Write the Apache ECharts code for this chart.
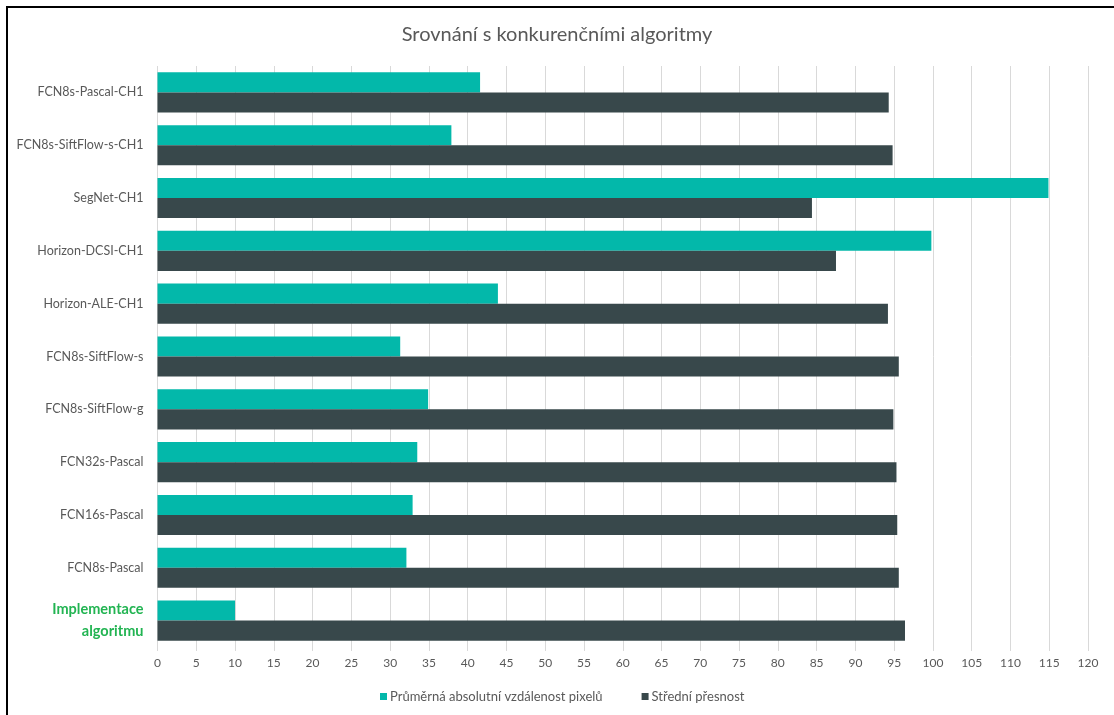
<!DOCTYPE html>
<html>
<head>
<meta charset="utf-8">
<title>Srovnání s konkurenčními algoritmy</title>
<script src="https://cdn.jsdelivr.net/npm/echarts@6/dist/echarts.min.js"></script>
<style>
  html, body { margin: 0; padding: 0; background: #ffffff; }
  #chart { width: 1114px; height: 715px; }
</style>
</head>
<body>
<div id="chart"></div>
<script>
// Algorithms, listed top to bottom
const categories = [
  'FCN8s-Pascal-CH1',
  'FCN8s-SiftFlow-s-CH1',
  'SegNet-CH1',
  'Horizon-DCSI-CH1',
  'Horizon-ALE-CH1',
  'FCN8s-SiftFlow-s',
  'FCN8s-SiftFlow-g',
  'FCN32s-Pascal',
  'FCN16s-Pascal',
  'FCN8s-Pascal',
  'Implementace algoritmu'
];

// Mean absolute pixel distance
const meanPixelDistance = [41.6, 37.9, 114.9, 99.8, 43.9, 31.3, 34.9, 33.5, 32.9, 32.1, 10.0];

// Mean accuracy
const meanAccuracy = [94.3, 94.8, 84.4, 87.5, 94.2, 95.6, 94.9, 95.3, 95.4, 95.6, 96.4];

const seriesNames = ['Průměrná absolutní vzdálenost pixelů', 'Střední přesnost'];
const highlighted = 'Implementace algoritmu';

const FONT = 'Lato, "Noto Sans", sans-serif';
const TEXT = '#595959';

const chart = echarts.init(document.getElementById('chart'), null, { renderer: 'canvas' });

chart.setOption({
  backgroundColor: '#ffffff',
  animation: false,
  textStyle: { fontFamily: FONT },
  graphic: [{
    type: 'rect',
    shape: { x: 7, y: 7, width: 1120, height: 720 },
    style: { fill: 'none', stroke: '#000000', lineWidth: 2 },
    silent: true,
    z: 100
  }],
  title: {
    text: 'Srovnání s konkurenčními algoritmy',
    left: 'center',
    top: 20,
    textStyle: { fontFamily: FONT, fontSize: 20, fontWeight: 'normal', color: TEXT }
  },
  legend: {
    bottom: 7,
    left: 375,
    itemWidth: 7,
    itemHeight: 7,
    itemGap: 39,
    icon: 'rect',
    textStyle: { fontFamily: FONT, fontSize: 13, color: TEXT, padding: [0, 0, 0, -2] },
    data: seriesNames
  },
  grid: { left: 157.5, right: 26, top: 66, bottom: 68, containLabel: false },
  xAxis: {
    type: 'value',
    min: 0,
    max: 120,
    interval: 5,
    axisLine: { show: false },
    axisTick: { show: true, length: 4, lineStyle: { color: '#d9d9d9' } },
    axisLabel: { color: TEXT, fontFamily: FONT, fontSize: 12, margin: 10 },
    splitLine: { show: true, lineStyle: { color: '#d9d9d9', width: 1 } }
  },
  yAxis: {
    type: 'category',
    inverse: true,
    data: categories,
    axisLine: { show: false },
    axisTick: { show: false },
    axisLabel: {
      margin: 14,
      color: TEXT,
      fontFamily: FONT,
      fontSize: 12.5,
      formatter: function (v) {
        if (v === highlighted) return '{hl|Implementace}\n{hl|algoritmu}';
        return v;
      },
      rich: {
        hl: { color: '#22b452', fontWeight: 'bold', fontSize: 14.5, fontFamily: FONT, lineHeight: 22, align: 'right' }
      }
    },
    splitLine: { show: false }
  },
  series: [
    {
      name: seriesNames[0],
      type: 'bar',
      data: meanPixelDistance,
      barGap: '0%',
      barCategoryGap: '24%',
      itemStyle: { color: '#03b8aa' }
    },
    {
      name: seriesNames[1],
      type: 'bar',
      data: meanAccuracy,
      barGap: '0%',
      barCategoryGap: '24%',
      itemStyle: { color: '#38484b' }
    }
  ]
});
</script>
</body>
</html>
